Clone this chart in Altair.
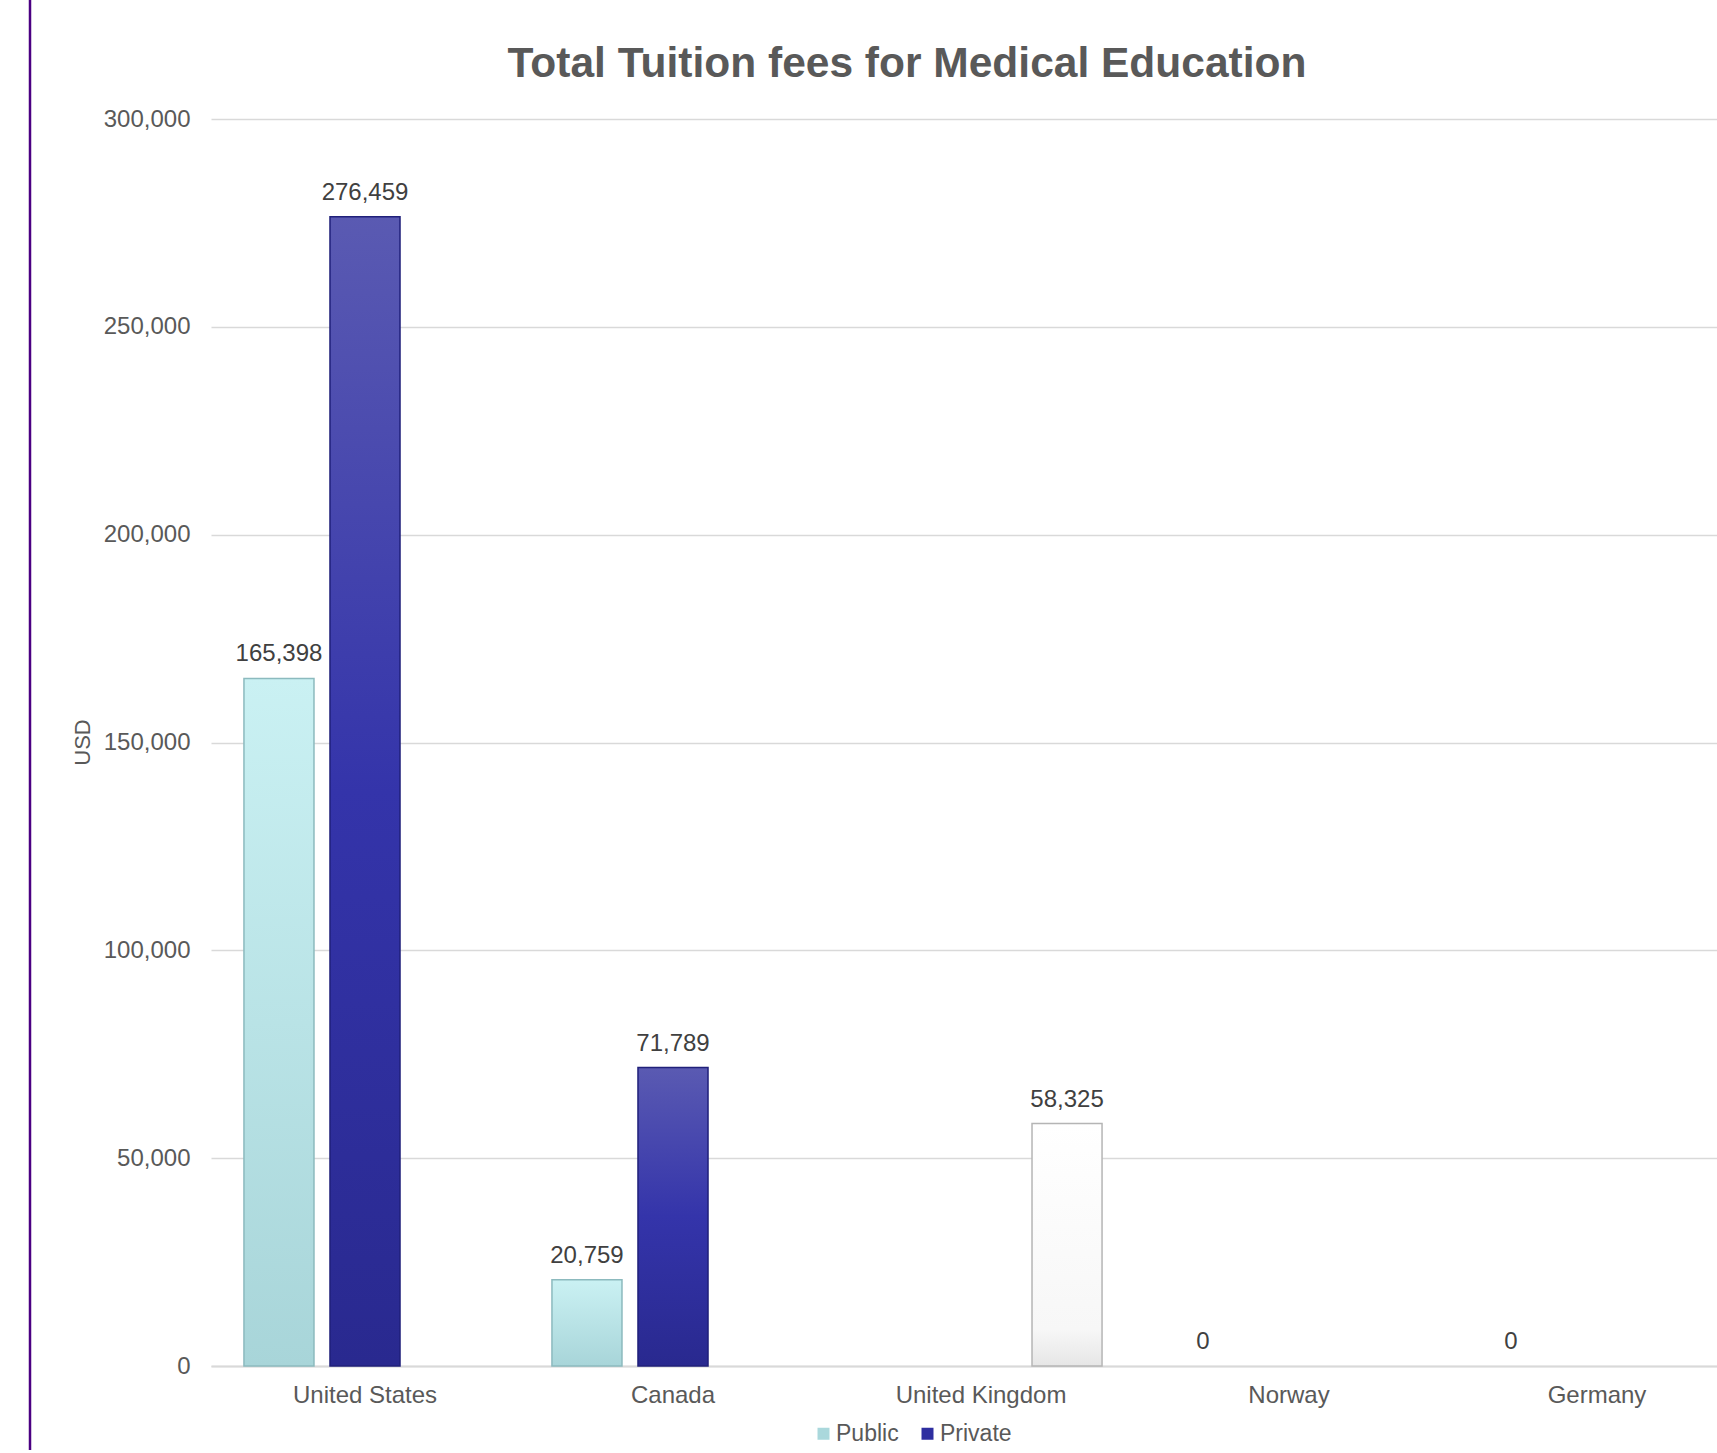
import altair as alt
import pandas as pd

# ---- data ----
countries = ["United States", "Canada", "United Kingdom", "Norway", "Germany"]
series_names = ["Public", "Private", "Other"]
public_vals = [165398, 20759, None, 0, 0]
private_vals = [276459, 71789, None, None, None]
other_vals = [None, None, 58325, None, None]
y_ticks = [0, 50000, 100000, 150000, 200000, 250000, 300000]
title_text = "Total Tuition fees for Medical Education"

rows = []
for name, vals in zip(series_names, [public_vals, private_vals, other_vals]):
    for c, v in zip(countries, vals):
        if v is not None:
            rows.append({"country": c, "series": name, "value": v})
df = pd.DataFrame(rows)

FONT = "Liberation Sans"

x_enc = alt.X(
    "country:N",
    sort=countries,
    scale=alt.Scale(domain=countries, range=[0, 1540], paddingInner=0.214, paddingOuter=0.107),
    axis=alt.Axis(
        title=None, labelAngle=0, labelFontSize=24, labelColor="#595959", labelFont=FONT,
        labelPadding=17, ticks=False, tickSize=0, domainColor="#d9d9d9", domainWidth=2,
        grid=False, labelBaseline="top",
    ),
)
xoff_enc = alt.XOffset("series:N", scale=alt.Scale(domain=series_names, paddingInner=0.186, paddingOuter=0))
y_enc = alt.Y(
    "value:Q",
    scale=alt.Scale(domain=[0, 300000]),
    axis=alt.Axis(
        values=y_ticks, format=",.0f", labelFontSize=24, labelColor="#595959", labelFont=FONT,
        gridColor="#d9d9d9", gridWidth=1.5, domain=False, ticks=False, tickSize=0,
        labelPadding=21, title="USD", titleX=-129, titleY=623, titleAngle=270,
        titleFontSize=22, titleFontWeight="normal", titleColor="#595959", titleFont=FONT,
        titleAlign="center", titleBaseline="middle",
    ),
)

base = alt.Chart(df)

legend_bars = base.mark_bar().encode(
    x=x_enc, xOffset=xoff_enc, y=y_enc,
    color=alt.Color(
        "series:N",
        scale=alt.Scale(domain=series_names, range=["#aad8dc", "#2e2ea0", "#ffffff"]),
        legend=alt.Legend(
            values=["Public", "Private"], orient="none", legendX=601, legendY=1303,
            direction="horizontal", title=None, symbolType="square", symbolSize=144,
            labelFontSize=23, labelColor="#595959", labelFont=FONT, labelOffset=1,
            columnPadding=17, symbolStrokeWidth=0,
        ),
    ),
)


def grad(stops):
    return alt.LinearGradient(
        gradient="linear", x1=0, x2=0, y1=0, y2=1,
        stops=[alt.GradientStop(color=c, offset=o) for o, c in stops],
    )


styles = {
    "Public": (grad([(0, "#caf1f3"), (1, "#a8d5d9")]), "#8cbabe"),
    "Private": (grad([(0, "#5a5ab2"), (0.5, "#3434aa"), (1, "#29298f")]), "#20207a"),
    "Other": (grad([(0, "#ffffff"), (0.85, "#f7f7f7"), (1, "#e6e6e6")]), "#b5b5b5"),
}

grad_layers = []
for name in series_names:
    fill, stroke = styles[name]
    grad_layers.append(
        base.transform_filter((alt.datum.series == name) & (alt.datum.value > 0))
        .mark_bar(fill=fill, stroke=stroke, strokeWidth=1.5)
        .encode(x=x_enc, xOffset=xoff_enc, y=y_enc)
    )

labels = base.mark_text(
    dy=-17, baseline="alphabetic", fontSize=24, color="#404040", font=FONT
).encode(x=x_enc, xOffset=xoff_enc, y=y_enc, text=alt.Text("value:Q", format=","))

title = alt.Chart(pd.DataFrame({"t": [title_text]})).mark_text(
    fontSize=42.5, fontWeight="bold", color="#595959", font=FONT, align="center", baseline="alphabetic"
).encode(x=alt.value(696), y=alt.value(-42), text="t:N")

border = alt.Chart(pd.DataFrame({"a": [0]})).mark_rule(color="#4b0082", strokeWidth=2.5).encode(
    x=alt.value(-181), y=alt.value(-119), y2=alt.value(1334)
)

chart = alt.layer(legend_bars, *grad_layers, labels, title, border).properties(
    width=1506,
    height=1247,
    autosize=alt.AutoSizeParams(type="none"),
    padding={"left": 211, "top": 119, "right": 0, "bottom": 84},
).configure_view(stroke=None)

chart.save("out.html", embed_options={"renderer": "svg", "actions": False})
